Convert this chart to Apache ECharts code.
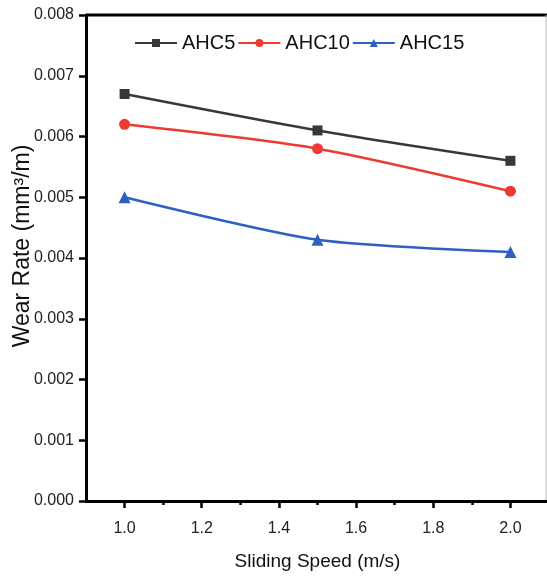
<!DOCTYPE html>
<html>
<head>
<meta charset="utf-8">
<script src="https://cdn.jsdelivr.net/npm/echarts@6/dist/echarts.min.js"></script>
<style>
  html, body { margin: 0; padding: 0; background: #fff; }
  #chart { width: 547px; height: 581px; }
</style>
</head>
<body>
<div id="chart"></div>
<script>
// data
const speeds = [1.0, 1.5, 2.0];
const ahc5 = [0.0067, 0.0061, 0.0056];
const ahc10 = [0.0062, 0.0058, 0.0051];
const ahc15 = [0.0050, 0.0043, 0.0041];
const majorX = [1.0, 1.2, 1.4, 1.6, 1.8, 2.0];
const minorX = [1.1, 1.3, 1.5, 1.7, 1.9];

function pairs(xs, ys) {
    var out = [];
    for (var i = 0; i < xs.length; i++) {
        out.push([xs[i], ys[i]]);
    }
    return out;
}

const chart = echarts.init(document.getElementById('chart'));
const font = '"Liberation Sans", Arial, sans-serif';

function line(name, data, color, symbol, size) {
    return {
        name: name,
        type: 'line',
        xAxisIndex: 0,
        data: pairs(speeds, data),
        smooth: 0.25,
        symbol: symbol,
        symbolSize: size,
        lineStyle: { color: color, width: 2.5 },
        itemStyle: { color: color },
        z: 3
    };
}

const option = {
    animation: false,
    backgroundColor: '#fff',
    grid: { left: 86, right: -2, top: 15, bottom: 80, containLabel: false, outerBoundsMode: 'none' },
    legend: {
        top: 28, left: 129,
        itemWidth: 42, itemHeight: 10, itemGap: 2,
        textStyle: { fontFamily: font, fontSize: 20, color: '#111' },
        data: ['AHC5', 'AHC10', 'AHC15']
    },
    xAxis: [{
        type: 'value',
        min: 0.9, max: 2.1,
        name: 'Sliding Speed (m/s)',
        nameLocation: 'middle', nameGap: 51,
        nameTextStyle: { fontFamily: font, fontSize: 19, color: '#111' },
        axisLine: { show: true, lineStyle: { color: '#000', width: 3 } },
        axisTick: { show: true, customValues: majorX, length: 7, lineStyle: { color: '#000', width: 2.5 } },
        axisLabel: { customValues: majorX, fontFamily: font, fontSize: 16, color: '#222', margin: 20,
                     formatter: function (v) { return v.toFixed(1); } },
        splitLine: { show: false }
    }, {
        // short ticks between the labelled ones
        type: 'value',
        position: 'bottom',
        min: 0.9, max: 2.1,
        axisLine: { show: false },
        axisTick: { show: true, customValues: minorX, length: 4, lineStyle: { color: '#000', width: 2.5 } },
        axisLabel: { show: false },
        splitLine: { show: false }
    }],
    yAxis: {
        type: 'value',
        min: 0, max: 0.008, interval: 0.001,
        name: 'Wear Rate (mm³/m)',
        nameLocation: 'middle', nameGap: 52, nameMoveOverlap: false,
        nameTextStyle: { fontFamily: font, fontSize: 23, color: '#111', padding: [0, 0, 0, 24] },
        axisLine: { show: true, lineStyle: { color: '#000', width: 3 } },
        axisTick: { show: true, length: 7, lineStyle: { color: '#000', width: 2.5 } },
        axisLabel: { fontFamily: font, fontSize: 16, color: '#222', margin: 12,
                     formatter: function (v) { return v.toFixed(3); } },
        splitLine: { show: false }
    },
    series: [
        line('AHC5', ahc5, '#383838', 'rect', 10),
        line('AHC10', ahc10, '#ee3a33', 'circle', 11),
        line('AHC15', ahc15, '#2f5fbf', 'triangle', 12)
    ],
    graphic: [
        { type: 'line', shape: { x1: 86, y1: 15, x2: 547, y2: 15 },
          style: { stroke: '#000', lineWidth: 3 } },
        { type: 'line', shape: { x1: 546, y1: 15, x2: 546, y2: 501 },
          style: { stroke: '#bbb', lineWidth: 1 } }
    ]
};
chart.setOption(option);
</script>
</body>
</html>
